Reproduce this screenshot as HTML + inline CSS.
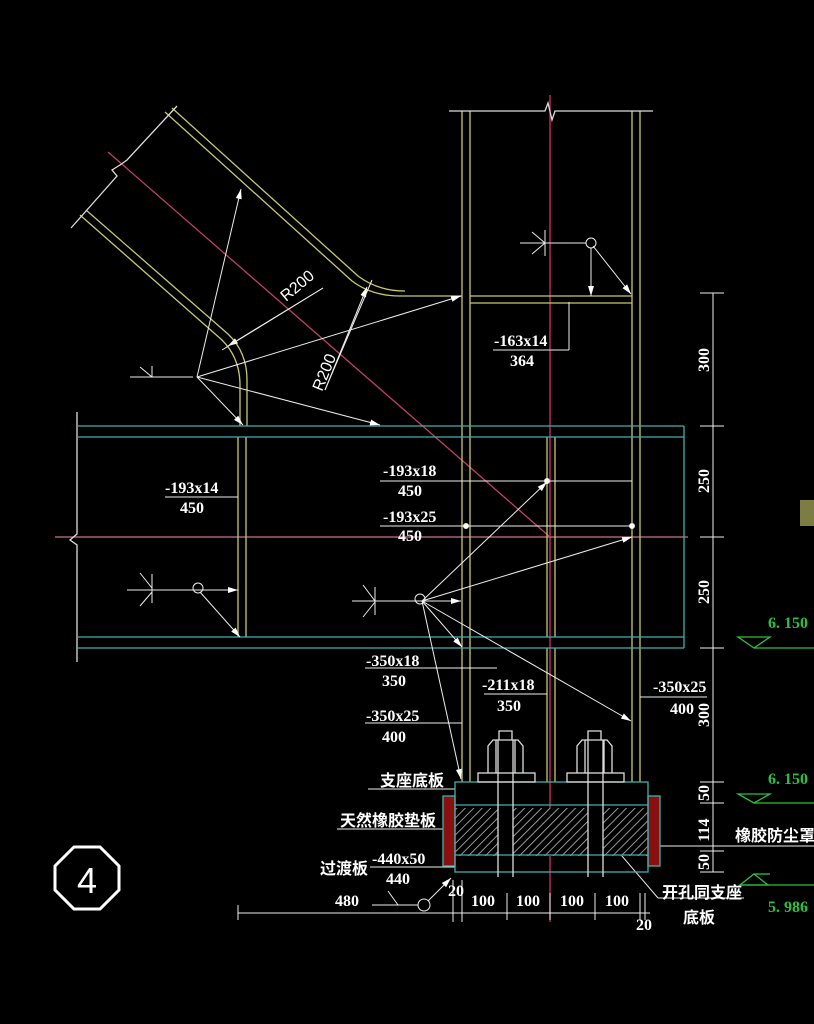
<!DOCTYPE html>
<html><head><meta charset="utf-8"><style>
html,body{margin:0;padding:0;background:#000;}
svg{display:block}
text{font-family:"Liberation Serif","Noto Serif CJK SC",serif;fill:#fff;font-weight:bold;}
.c{font-family:"Liberation Sans","Noto Sans CJK SC",sans-serif;font-weight:bold;}
</style></head><body>
<svg width="814" height="1024" viewBox="0 0 814 1024" xmlns="http://www.w3.org/2000/svg">
<defs>
<marker id="a" markerWidth="10" markerHeight="6" refX="10" refY="3" orient="auto" markerUnits="userSpaceOnUse"><path d="M0,0 L10,3 L0,6z" fill="#fff"/></marker>
<pattern id="h" width="6" height="6" patternUnits="userSpaceOnUse" patternTransform="rotate(45)"><rect width="6" height="6" fill="#000"/><line x1="0" y1="0" x2="0" y2="6" stroke="#bbb" stroke-width="1.6"/></pattern>
</defs>
<rect width="814" height="1024" fill="#000"/>
<g fill="none" stroke-width="1.3">
<line x1="550" y1="95" x2="550" y2="922" stroke="#d0306a"/>
<line x1="55" y1="537" x2="688" y2="537" stroke="#d07090"/>
<line x1="108" y1="152" x2="550" y2="537" stroke="#c04060"/>
<g stroke="#c8c870">
<line x1="462" y1="111" x2="462" y2="782"/><line x1="470" y1="111" x2="470" y2="782"/>
<line x1="632" y1="111" x2="632" y2="782"/><line x1="640" y1="111" x2="640" y2="782"/>
<line x1="470" y1="296" x2="632" y2="296"/><line x1="470" y1="303" x2="632" y2="303"/>
<line x1="238" y1="437" x2="238" y2="637"/><line x1="246" y1="437" x2="246" y2="637"/>
<line x1="547" y1="437" x2="547" y2="637"/><line x1="555" y1="437" x2="555" y2="637"/>
<line x1="547" y1="648" x2="547" y2="782"/><line x1="555" y1="648" x2="555" y2="782"/>
<path d="M165,112 L352,281 Q372,296 400,296 L462,296"/>
<path d="M172,108 L358,276 Q378,291 405,291"/>
<path d="M80,215 L222,340 Q240,358 240,385 L240,426"/>
<path d="M86,210 L228,334 Q247,352 247,380 L247,426"/>
</g>
<g stroke="#ddd">
<path d="M449,111 L545,111 L548,103 L552,120 L555,111 L653,111"/>
<path d="M71,228 L117,176 L112,170 L120,165 L127,160 L177,106"/>
<path d="M77,412 L77,534 L70,540 L77,545 L77,662"/>
</g>
<g stroke="#40b0b0">
<line x1="77" y1="426" x2="684" y2="426"/><line x1="77" y1="437" x2="684" y2="437"/>
<line x1="77" y1="637" x2="684" y2="637"/><line x1="77" y1="648" x2="684" y2="648"/>
<line x1="684" y1="426" x2="684" y2="648"/>
</g>
<g stroke="#eee" stroke-width="1">
<line x1="197" y1="377" x2="241" y2="189" marker-end="url(#a)"/>
<line x1="197" y1="377" x2="461" y2="296" marker-end="url(#a)"/>
<line x1="197" y1="377" x2="243" y2="425" marker-end="url(#a)"/>
<line x1="197" y1="377" x2="380" y2="425" marker-end="url(#a)"/>
<line x1="130" y1="377" x2="193" y2="377"/><line x1="140" y1="367" x2="152" y2="377"/><line x1="152" y1="366" x2="152" y2="377"/>
<line x1="323" y1="288" x2="228" y2="346" marker-end="url(#a)"/><line x1="323" y1="288" x2="222" y2="350"/>
<line x1="325" y1="390" x2="367" y2="287" marker-end="url(#a)"/><line x1="325" y1="390" x2="372" y2="280"/>
<line x1="520" y1="243" x2="586" y2="243"/><line x1="545" y1="230" x2="545" y2="256"/><line x1="532" y1="232" x2="545" y2="243"/><line x1="532" y1="254" x2="545" y2="243"/>
<circle cx="591" cy="243" r="5"/>
<line x1="591" y1="248" x2="591" y2="296" marker-end="url(#a)"/>
<line x1="593" y1="246" x2="631" y2="294" marker-end="url(#a)"/>
<line x1="569" y1="302" x2="569" y2="350"/><line x1="493" y1="350" x2="569" y2="350"/>
<line x1="380" y1="481" x2="632" y2="481"/><circle cx="547" cy="481" r="2.5" fill="#fff"/>
<line x1="380" y1="526" x2="632" y2="526"/><circle cx="466" cy="526" r="2.5" fill="#fff"/><circle cx="632" cy="526" r="2.5" fill="#fff"/>
<line x1="165" y1="497" x2="238" y2="497"/>
<line x1="127" y1="590" x2="238" y2="590" marker-end="url(#a)"/>
<line x1="152" y1="574" x2="152" y2="603"/><line x1="140" y1="573" x2="152" y2="588"/><line x1="140" y1="606" x2="152" y2="592"/>
<circle cx="198" cy="588" r="5"/>
<line x1="200" y1="592" x2="240" y2="637" marker-end="url(#a)"/>
<line x1="352" y1="601" x2="461" y2="601" marker-end="url(#a)"/>
<line x1="375" y1="587" x2="375" y2="615"/><line x1="363" y1="585" x2="375" y2="601"/><line x1="363" y1="617" x2="375" y2="602"/>
<circle cx="420" cy="599" r="5"/>
<line x1="422" y1="601" x2="547" y2="482" marker-end="url(#a)"/>
<line x1="422" y1="601" x2="632" y2="537" marker-end="url(#a)"/>
<line x1="422" y1="601" x2="462" y2="647" marker-end="url(#a)"/>
<line x1="422" y1="601" x2="631" y2="721" marker-end="url(#a)"/>
<line x1="422" y1="601" x2="461" y2="779" marker-end="url(#a)"/>
<line x1="365" y1="668" x2="497" y2="668"/>
<line x1="365" y1="723" x2="462" y2="723"/>
<line x1="484" y1="694" x2="547" y2="694"/>
<line x1="640" y1="697" x2="707" y2="697"/>
<line x1="713" y1="293" x2="713" y2="872"/>
<g><line x1="700" y1="293" x2="724" y2="293"/><line x1="700" y1="426" x2="724" y2="426"/><line x1="700" y1="537" x2="724" y2="537"/><line x1="700" y1="648" x2="724" y2="648"/><line x1="700" y1="782" x2="724" y2="782"/><line x1="700" y1="803" x2="724" y2="803"/><line x1="700" y1="851" x2="724" y2="851"/><line x1="700" y1="872" x2="724" y2="872"/></g>
<line x1="368" y1="789" x2="455" y2="789"/>
<line x1="337" y1="829" x2="475" y2="829"/>
<line x1="370" y1="867" x2="455" y2="867"/>
<line x1="660" y1="846" x2="814" y2="846"/>
<line x1="598" y1="828" x2="658" y2="898"/><line x1="658" y1="898" x2="744" y2="898"/>
<line x1="372" y1="905" x2="418" y2="905"/><line x1="388" y1="891" x2="398" y2="905"/>
<circle cx="424" cy="905" r="6"/>
<line x1="428" y1="901" x2="451" y2="878" marker-end="url(#a)"/>
<line x1="238" y1="913" x2="650" y2="913"/>
<line x1="238" y1="905" x2="238" y2="920"/>
<line x1="453" y1="880" x2="453" y2="922"/><line x1="462" y1="880" x2="462" y2="922"/>
<line x1="507" y1="893" x2="507" y2="920"/><line x1="550" y1="893" x2="550" y2="920"/><line x1="595" y1="893" x2="595" y2="920"/><line x1="640" y1="893" x2="640" y2="920"/><line x1="645" y1="893" x2="645" y2="920"/>
</g>
<rect x="449" y="808" width="199" height="48" fill="url(#h)"/>
<rect x="498" y="808" width="15" height="48" fill="#000"/><rect x="588" y="808" width="15" height="48" fill="#000"/>
<rect x="443" y="796" width="12" height="70" fill="#8a1010" stroke="#40b0b0"/>
<rect x="648" y="796" width="12" height="70" fill="#8a1010" stroke="#40b0b0"/>
<g stroke="#40b0b0" fill="none" stroke-width="1.3"><rect x="455" y="782" width="193" height="90"/><line x1="455" y1="805" x2="648" y2="805"/><line x1="455" y1="855" x2="648" y2="855"/></g>
<g stroke="#ddd" fill="none" stroke-width="1.3">
<line x1="498" y1="740" x2="498" y2="877"/><line x1="513" y1="740" x2="513" y2="877"/>
<line x1="588" y1="740" x2="588" y2="877"/><line x1="603" y1="740" x2="603" y2="877"/>
<rect x="478" y="773" width="57" height="9"/><rect x="567" y="773" width="57" height="9"/>
<path d="M488,773 L488,746 L493,740 L518,740 L523,746 L523,773 M496,740 L496,773 M515,740 L515,773 M499,740 L499,731 L512,731 L512,740"/>
<path d="M577,773 L577,746 L582,740 L607,740 L612,746 L612,773 M585,740 L585,773 M604,740 L604,773 M588,740 L588,731 L601,731 L601,740"/>
</g>
<g stroke="#2ec040" fill="none" stroke-width="1.3">
<path d="M738,637 L770,637 L754,648 Z"/><line x1="754" y1="648" x2="814" y2="648"/>
<path d="M738,794 L770,794 L754,803 Z"/><line x1="754" y1="803" x2="814" y2="803"/>
<path d="M740,885 L768,885 L754,874 Z"/><line x1="740" y1="885" x2="814" y2="885"/><line x1="754" y1="874" x2="770" y2="874"/>
</g>
<g style="font-size:16px">
<text x="768" y="628" style="fill:#2ec040">6. 150</text>
<text x="768" y="784" style="fill:#2ec040">6. 150</text>
<text x="768" y="912" style="fill:#2ec040">5. 986</text>
</g>
<rect x="800" y="500" width="14" height="26" fill="#b0b060" opacity=".7"/>
<g style="font-size:16px">
<text x="286" y="302" transform="rotate(-40 286 302)" style="font-weight:normal;font-family:'Liberation Sans',sans-serif">R200</text>
<text x="322" y="392" transform="rotate(-68 322 392)" style="font-weight:normal;font-family:'Liberation Sans',sans-serif">R200</text>
<text x="494" y="346">-163x14</text><text x="510" y="366">364</text>
<text x="383" y="476">-193x18</text><text x="398" y="496">450</text>
<text x="383" y="522">-193x25</text><text x="398" y="541">450</text>
<text x="165" y="493">-193x14</text><text x="180" y="513">450</text>
<text x="366" y="666">-350x18</text><text x="382" y="686">350</text>
<text x="366" y="721">-350x25</text><text x="382" y="742">400</text>
<text x="482" y="690">-211x18</text><text x="497" y="711">350</text>
<text x="653" y="692">-350x25</text><text x="670" y="714">400</text>
<text x="335" y="906">480</text>
<text x="448" y="896">20</text>
<text x="471" y="906">100</text><text x="516" y="906">100</text><text x="560" y="906">100</text><text x="605" y="906">100</text>
<text x="636" y="930">20</text>
<text x="372" y="864">-440x50</text><text x="386" y="884">440</text>
</g>
<g style="font-size:16px">
<text transform="translate(709 360) rotate(-90)" text-anchor="middle">300</text>
<text transform="translate(709 481) rotate(-90)" text-anchor="middle">250</text>
<text transform="translate(709 592) rotate(-90)" text-anchor="middle">250</text>
<text transform="translate(709 715) rotate(-90)" text-anchor="middle">300</text>
<text transform="translate(709 793) rotate(-90)" text-anchor="middle">50</text>
<text transform="translate(709 830) rotate(-90)" text-anchor="middle">114</text>
<text transform="translate(709 862) rotate(-90)" text-anchor="middle">50</text>
</g>
<g style="font-size:16px">
<text class="c" x="380" y="786">支座底板</text>
<text class="c" x="340" y="826">天然橡胶垫板</text>
<text class="c" x="320" y="874">过渡板</text>
<text class="c" x="735" y="841">橡胶防尘罩</text>
<text class="c" x="662" y="898">开孔同支座</text>
<text class="c" x="683" y="923">底板</text>
</g>
<polygon points="74,847 100,847 119,866 119,890 100,909 74,909 55,890 55,866" fill="none" stroke="#fff" stroke-width="3"/>
<text x="87" y="893" text-anchor="middle" style="font-size:36px;font-weight:normal" class="c">4</text>
</svg>
</body></html>
